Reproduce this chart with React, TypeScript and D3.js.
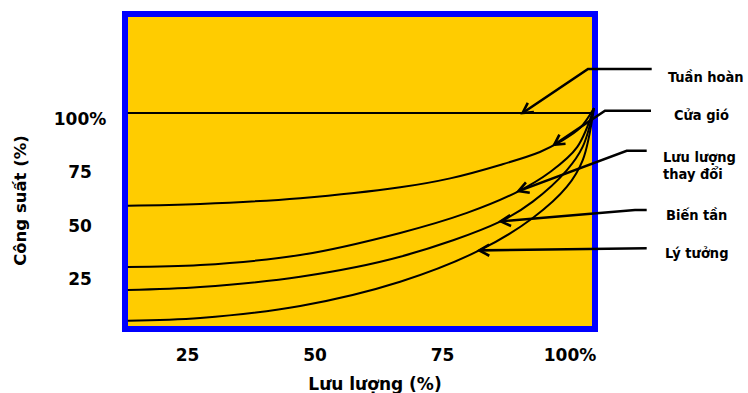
import React from 'react';
import * as d3 from 'd3';

const W = 748;
const H = 393;

// Axis ticks
const flowTicks = [25, 50, 75, 100];
const flowTickLabels = ['25', '50', '75', '100%'];
const powerTicks = [25, 50, 75, 100];
const powerTickLabels = ['25', '50', '75', '100%'];

// Tuần hoàn (bypass): constant power
const bypassFlow = [13.3, 104.7];
const bypassPower = [100, 100];

// Cửa gió (damper)
const damperFlow = [13.3, 27.5, 47.1, 66.7, 76.5, 86.3, 94.1, 98.0, 102.0, 104.7];
const damperPower = [56.5, 57.3, 60.0, 65.1, 69.3, 75.6, 81.7, 86.4, 93.0, 102.3];

// Lưu lượng thay đổi (variable flow)
const varFlow = [13.3, 27.5, 47.1, 66.7, 79.8, 89.6, 96.1, 101.4, 104.7];
const varPower = [27.7, 28.6, 33.3, 43.7, 53.1, 62.9, 72.3, 84.0, 102.3];

// Biến tần (inverter)
const vfdFlow = [13.3, 27.5, 47.1, 66.7, 86.3, 92.7, 99.4, 102.5, 104.7];
const vfdPower = [16.9, 18.3, 23.1, 32.5, 49.0, 58.4, 73.2, 84.2, 102.3];

// Lý tưởng (ideal)
const idealFlow = [13.3, 27.5, 47.1, 66.7, 82.4, 92.7, 99.4, 102.5, 104.7];
const idealPower = [2.5, 3.8, 9.4, 20.8, 35.7, 50.7, 65.4, 77.9, 102.3];

const seriesNames = ['Tuần hoàn', 'Cửa gió', 'Lưu lượng thay đổi', 'Biến tần', 'Lý tưởng'];
const seriesFlow = [bypassFlow, damperFlow, varFlow, vfdFlow, idealFlow];
const seriesPower = [bypassPower, damperPower, varPower, vfdPower, idealPower];
// Flow value where each callout arrow touches its curve
const calloutFlow = [90.7, 96.9, 89.9, 86.4, 82.2];

// Layout
const frame = { x0: 128, y0: 17, x1: 592, y1: 326, border: 6 };
const calloutLayout = [
  { lines: ['Tuần hoàn'], tx: 668, ty: 82, path: [[651.7, 69], [588, 69]] },
  { lines: ['Cửa gió'], tx: 674, ty: 120, path: [[651, 110.7], [605, 110.7]] },
  { lines: ['Lưu lượng', 'thay đổi'], tx: 663, ty: 162, path: [[646.7, 150.7], [626.7, 150.7]] },
  { lines: ['Biến tần'], tx: 666, ty: 220, path: [[646.7, 210], [635, 210]] },
  { lines: ['Lý tưởng'], tx: 665, ty: 258, path: [[646.7, 248.3]] },
];

const FONT = "'DejaVu Sans', Verdana, sans-serif";

function interp(x: number, xs: number[], ys: number[]) {
  for (let i = 0; i < xs.length - 1; i++) {
    if (x >= xs[i] && x <= xs[i + 1]) {
      const t = (x - xs[i]) / (xs[i + 1] - xs[i]);
      return ys[i] + t * (ys[i + 1] - ys[i]);
    }
  }
  return ys[ys.length - 1];
}

export default function App() {
  const x = d3.scaleLinear().domain([0, 100]).range([60, 570]);
  const y = d3.scaleLinear().domain([0, 100]).range([frame.y1, 113]);

  const line = d3
    .line<[number, number]>()
    .x((d) => x(d[0]))
    .y((d) => y(d[1]))
    .curve(d3.curveCatmullRom.alpha(0.5));

  const b = frame.border;

  return (
    <svg
      width={W}
      height={H}
      viewBox={`0 0 ${W} ${H}`}
      style={{ position: 'absolute', left: 0, top: 0, display: 'block', background: '#fff' }}
    >
      <defs>
        <marker
          id="arrowHead"
          viewBox="-13 -8 16 16"
          refX={0}
          refY={0}
          markerWidth={16}
          markerHeight={16}
          markerUnits="userSpaceOnUse"
          orient="auto"
        >
          <path d="M-10,-5.5 L0,0 L-10,5.5" fill="none" stroke="#000" strokeWidth={2.6} />
        </marker>
      </defs>

      {/* plot frame */}
      <rect
        x={frame.x0 - b / 2}
        y={frame.y0 - b / 2}
        width={frame.x1 - frame.x0 + b}
        height={frame.y1 - frame.y0 + b}
        fill="#FFCC00"
        stroke="#0000FF"
        strokeWidth={b}
      />

      {/* curves */}
      {seriesFlow.map((fx, i) => (
        <path
          key={seriesNames[i]}
          d={line(fx.map((v, j) => [v, seriesPower[i][j]] as [number, number])) || ''}
          fill="none"
          stroke="#000"
          strokeWidth={2}
        />
      ))}

      {/* y tick labels */}
      {powerTicks.map((t, i) => (
        <text
          key={'py' + t}
          x={80}
          y={y(t) + 6}
          dy="0.36em"
          textAnchor="middle"
          fontFamily={FONT}
          fontWeight="bold"
          fontSize={17}
          fill="#000"
        >
          {powerTickLabels[i]}
        </text>
      ))}

      {/* x tick labels */}
      {flowTicks.map((t, i) => (
        <text
          key={'fx' + t}
          x={x(t)}
          y={361}
          textAnchor="middle"
          fontFamily={FONT}
          fontWeight="bold"
          fontSize={17}
          fill="#000"
        >
          {flowTickLabels[i]}
        </text>
      ))}

      {/* axis titles */}
      <text
        x={375}
        y={390}
        textAnchor="middle"
        fontFamily={FONT}
        fontWeight="bold"
        fontSize={17}
        fill="#000"
      >
        Lưu lượng (%)
      </text>
      <text
        transform="translate(25.5,200.5) rotate(-90)"
        textAnchor="middle"
        fontFamily={FONT}
        fontWeight="bold"
        fontSize={16.5}
        fill="#000"
      >
        Công suất (%)
      </text>

      {/* callouts */}
      {calloutLayout.map((c, i) => {
        const tipX = x(calloutFlow[i]);
        const tipY = y(interp(calloutFlow[i], seriesFlow[i], seriesPower[i]));
        const pts = [...c.path, [tipX, tipY]];
        const d = 'M' + pts.map((p) => p.join(',')).join('L');
        return (
          <g key={'c' + i}>
            <path d={d} fill="none" stroke="#000" strokeWidth={2.6} markerEnd="url(#arrowHead)" />
            <text
              x={c.tx}
              y={c.ty}
              fontFamily={FONT}
              fontWeight="bold"
              fontSize={14.5}
              fontStretch="condensed"
              fill="#000"
            >
              {c.lines.map((l, k) => (
                <tspan key={k} x={c.tx} dy={k === 0 ? 0 : 16.5}>
                  {l}
                </tspan>
              ))}
            </text>
          </g>
        );
      })}
    </svg>
  );
}
